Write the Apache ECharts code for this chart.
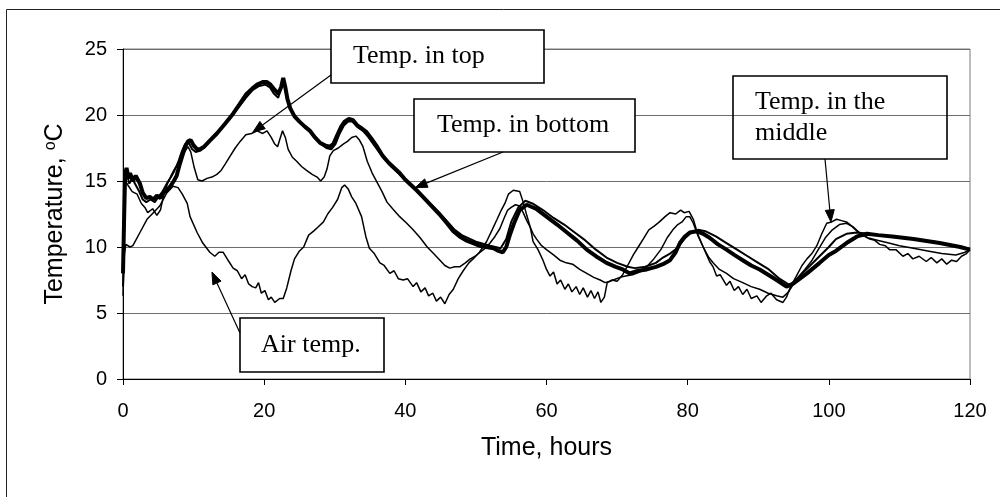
<!DOCTYPE html>
<html>
<head>
<meta charset="utf-8">
<script src="https://cdn.jsdelivr.net/npm/echarts@6/dist/echarts.min.js"></script>
<style>
  html, body { margin: 0; padding: 0; background: #fff; }
  #chart { width: 1000px; height: 497px; }
</style>
</head>
<body>
<div id="chart"></div>
<script>
// Temperature records over five days, [hours, °C]
const airTemp = [
  [0,6.3],[0.2,9.5],[0.4,10.2],[1.0,10.0],[1.4,10.1],[2.4,11.1],[3.4,12.1],[4.3,12.6],[5.2,13.1],[6.2,14.1],
  [7.1,14.6],[7.8,14.5],[8.4,14.0],[9.1,13.3],[9.5,12.3],[10.5,11.1],[11.3,10.3],[12.3,9.6],[13.0,9.3],[13.6,9.6],
  [14.2,9.6],[15.0,8.9],[15.6,8.4],[16.2,8.2],[16.8,7.6],[17.3,7.9],[17.8,7.2],[18.3,7.0],[18.8,6.9],[19.2,7.3],
  [19.6,6.5],[20.1,6.7],[20.6,6.0],[21.0,6.2],[21.5,5.8],[22.2,6.1],[22.7,6.1],[23.2,6.9],[23.8,8.2],[24.3,9.1],
  [25.0,9.7],[25.6,10.0],[26.3,10.9],[27.0,11.2],[27.6,11.5],[28.4,11.9],[29.0,12.5],[29.7,13.0],[30.4,13.6],[31.0,14.5],
  [31.4,14.7],[31.9,14.4],[32.4,13.8],[33.0,13.3],[33.8,12.3],[34.4,10.8],[34.9,9.9],[35.6,9.5],[36.4,8.8],[37.0,8.6],
  [37.8,8.0],[38.4,8.2],[39.0,7.6],[39.7,7.5],[40.3,7.6],[41.1,7.0],[41.6,7.3],[42.2,6.6],[42.8,6.9],[43.3,6.3],
  [43.9,6.5],[44.4,5.9],[45.0,6.2],[45.6,5.7],[46.2,6.4],[46.8,6.8],[47.5,7.6],[48.2,8.2],[49.0,8.8],[49.6,9.1],
  [50.5,9.6],[51.5,10.4],[52.3,11.3],[53.0,12.1],[53.6,12.8],[54.1,13.3],[54.6,14.0],[55.3,14.3],[56.2,14.2],[56.7,13.4],
  [57.2,12.4],[57.7,11.5],[58.1,10.4],[58.8,9.8],[59.5,9.0],[60.0,8.3],[60.5,7.8],[61.0,8.1],[61.5,7.2],[62.0,7.5],
  [62.6,6.8],[63.1,7.2],[63.6,6.6],[64.2,7.0],[64.7,6.4],[65.2,6.9],[65.8,6.2],[66.3,6.7],[66.8,6.1],[67.3,6.6],
  [67.7,5.8],[68.2,6.2],[68.6,7.3],[69.3,7.5],[70.0,7.4],[70.8,7.9],[71.5,8.6],[72.3,9.4],[73.0,10.0],[73.7,10.6],
  [74.5,11.3],[75.3,11.6],[76.0,11.9],[76.8,12.3],[77.5,12.6],[78.3,12.5],[79.0,12.8],[79.5,12.6],[80.2,12.7],[80.8,12.1],
  [81.4,11.0],[82.2,10.0],[83.1,8.9],[83.6,8.5],[84.1,7.8],[84.6,7.9],[85.5,7.1],[86.0,7.4],[86.6,6.7],[87.2,7.0],
  [87.8,6.4],[88.4,6.8],[89.0,6.1],[89.8,6.3],[90.4,5.8],[91.2,6.3],[91.8,6.5],[92.6,6.0],[93.5,5.8],[94.0,6.2],
  [94.5,6.9],[95.4,7.8],[96.2,8.6],[96.9,9.1],[97.6,9.5],[98.3,10.1],[99.0,11.0],[99.7,11.8],[100.4,11.9],[101.1,12.1],
  [101.8,12.0],[102.5,11.9],[103.2,11.6],[104.0,11.2],[104.8,10.9],[105.8,10.6],[106.5,10.5],[107.2,10.2],[108.0,10.1],[108.6,9.8],
  [109.5,9.8],[110.5,9.3],[111.2,9.5],[111.9,9.1],[112.8,9.3],[113.8,8.9],[114.5,9.2],[115.3,8.8],[116.0,9.1],[116.7,8.7],
  [117.4,9.0],[118.1,8.9],[118.8,9.3],[119.5,9.5],[120.0,9.8]
];

const topTemp = [
  [0,8.0],[0.15,12.5],[0.35,15.0],[0.8,14.6],[1.3,14.2],[2.0,14.0],[2.6,13.3],[3.1,13.0],[3.5,12.6],[4.2,12.9],
  [4.8,12.4],[5.3,12.8],[5.8,14.0],[6.3,14.8],[6.9,15.5],[7.4,16.0],[8.0,16.2],[8.6,17.1],[9.2,17.6],[9.6,17.2],
  [10.1,16.0],[10.6,15.1],[11.2,15.0],[11.9,15.2],[12.6,15.3],[13.3,15.5],[13.9,15.8],[14.5,16.3],[15.2,16.9],[15.9,17.5],
  [16.6,18.0],[17.4,18.5],[18.2,18.6],[19.0,18.8],[19.8,18.6],[20.4,18.8],[21.0,18.3],[21.5,17.8],[21.9,17.6],[22.3,18.3],
  [22.6,18.8],[23.0,18.3],[23.4,17.4],[24.0,16.8],[24.6,16.5],[25.3,16.1],[26.0,15.8],[26.8,15.5],[27.5,15.3],[28.0,15.0],
  [28.5,15.3],[28.9,15.9],[29.3,16.9],[29.8,17.3],[30.5,17.5],[31.2,17.8],[31.8,18.0],[32.4,18.3],[33.0,18.4],[33.5,18.1],
  [34.0,17.6],[34.6,16.5],[35.3,15.6],[36.0,14.9],[36.7,14.2],[37.4,13.4],[38.2,12.9],[39.2,12.3],[40.2,11.8],[41.1,11.3],
  [42.1,10.7],[43.1,10.0],[44.0,9.5],[44.9,9.0],[45.6,8.6],[46.3,8.4],[47.0,8.5],[47.7,8.5],[48.5,8.8],[49.2,9.1],
  [49.9,9.3],[50.6,9.6],[51.3,9.9],[52.0,10.3],[52.7,10.8],[53.4,11.4],[54.0,12.2],[54.5,12.8],[55.0,13.0],[55.6,13.2],
  [56.2,13.1],[56.7,12.6],[57.2,12.0],[57.6,11.6],[58.1,11.0],[58.6,10.6],[59.3,10.1],[60.0,9.8],[61.0,9.4],[61.9,9.0],
  [62.8,8.8],[63.7,8.7],[64.7,8.3],[65.7,8.0],[66.7,7.7],[67.6,7.5],[68.3,7.3],[69.0,7.4],[70.4,7.7],[71.2,7.8],
  [72.2,7.9],[73.2,8.1],[74.2,8.5],[75.2,9.1],[76.2,9.8],[77.1,10.7],[77.9,11.3],[78.6,11.7],[79.2,11.9],[79.8,12.3],
  [80.3,12.3],[80.8,11.8],[81.5,10.8],[82.2,10.0],[83.0,9.2],[83.6,8.8],[84.5,8.3],[85.5,8.0],[86.5,7.6],[87.8,7.3],
  [89.0,7.0],[90.2,6.8],[91.4,6.5],[92.6,6.3],[93.5,6.2],[94.3,6.6],[95.0,7.2],[95.8,7.8],[96.6,8.3],[97.5,8.9],
  [98.5,9.8],[99.5,10.7],[100.5,11.3],[101.5,11.7],[102.5,11.8],[103.5,11.5],[104.5,11.0],[105.5,10.7],[107.0,10.5],[108.5,10.3],
  [110.0,10.1],[112.0,9.9],[114.0,9.7],[116.0,9.5],[118.0,9.4],[119.3,9.6],[120.0,9.8]
];

const middleTemp = [
  [0,7.0],[0.15,11.0],[0.3,15.0],[0.5,15.6],[0.9,14.8],[1.3,15.2],[1.8,14.7],[2.3,14.2],[2.8,13.6],[3.3,13.4],
  [3.9,13.6],[4.5,13.4],[5.0,13.8],[5.6,14.2],[6.2,14.8],[6.8,15.3],[7.3,15.8],[7.8,16.4],[8.3,17.2],[8.8,17.8],
  [9.3,17.9],[9.8,17.4],[10.3,17.2],[11.0,17.3],[11.8,17.7],[12.8,18.3],[14.0,19.0],[15.2,19.8],[16.4,20.6],[17.4,21.3],
  [18.4,21.9],[19.3,22.2],[20.2,22.3],[20.8,22.1],[21.4,21.6],[22.0,21.3],[22.5,22.4],[22.8,22.6],[23.1,21.6],[23.5,20.7],
  [24.0,20.1],[24.8,19.6],[25.6,19.2],[26.5,18.7],[27.3,18.2],[28.0,17.8],[28.8,17.5],[29.5,17.4],[30.1,17.8],[30.7,18.6],
  [31.3,19.2],[31.9,19.5],[32.5,19.5],[33.2,19.1],[34.0,18.8],[34.8,18.3],[35.6,17.7],[36.4,17.1],[37.2,16.6],[38.0,16.1],
  [38.8,15.7],[39.6,15.3],[40.5,14.9],[41.4,14.4],[42.2,14.0],[43.0,13.5],[43.9,13.1],[44.8,12.6],[46.0,11.9],[47.0,11.3],
  [48.0,10.9],[50.0,10.4],[52.0,10.1],[53.5,9.9],[54.3,10.6],[55.0,11.9],[56.0,13.0],[57.0,13.5],[58.0,13.3],[59.5,12.8],
  [61.0,12.2],[62.5,11.7],[64.0,11.1],[65.5,10.5],[67.0,9.8],[68.5,9.2],[70.0,8.8],[71.5,8.5],[72.5,8.4],[74.0,8.5],
  [75.5,8.8],[76.5,9.2],[77.5,9.5],[78.5,9.9],[79.5,10.6],[80.5,11.1],[81.5,11.3],[82.5,11.2],[84.0,10.8],[85.5,10.3],
  [87.0,9.8],[88.5,9.3],[90.0,8.8],[91.5,8.3],[93.0,7.6],[94.5,7.1],[95.5,7.6],[97.0,8.4],[98.5,9.2],[100.0,10.0],
  [101.0,10.6],[102.5,11.0],[104.0,11.1],[105.5,11.0],[107.0,10.9],[109.0,10.8],[111.0,10.7],[113.0,10.5],[115.0,10.4],[117.0,10.2],
  [119.0,10.0],[120.0,9.8]
];

const bottomTemp = [
  [0,8.0],[0.15,12.0],[0.3,15.5],[0.5,16.0],[0.8,15.2],[1.0,15.6],[1.4,15.0],[1.8,15.4],[2.4,14.8],[2.8,14.1],
  [3.3,13.7],[3.8,13.8],[4.3,13.6],[4.8,13.9],[5.3,13.7],[5.7,14.1],[6.2,14.3],[6.7,14.6],[7.2,15.0],[7.6,15.4],
  [8.0,16.2],[8.4,16.9],[8.8,17.6],[9.2,18.0],[9.6,18.1],[10.0,17.7],[10.5,17.4],[10.9,17.4],[11.5,17.6],[12.2,18.0],
  [13.3,18.6],[14.4,19.3],[15.6,20.1],[16.5,20.8],[17.5,21.6],[18.3,22.0],[19.0,22.3],[19.8,22.5],[20.4,22.5],[20.9,22.3],
  [21.5,21.9],[22.0,21.6],[22.4,22.1],[22.7,22.8],[23.0,22.1],[23.3,21.2],[23.7,20.5],[24.3,19.9],[25.0,19.5],[25.8,19.1],
  [26.5,18.8],[27.2,18.3],[27.9,17.9],[28.6,17.7],[29.3,17.6],[29.8,17.8],[30.3,18.4],[30.9,19.1],[31.4,19.5],[32.0,19.7],
  [32.6,19.6],[33.2,19.2],[33.8,19.0],[34.5,18.7],[35.2,18.2],[36.0,17.6],[36.8,16.9],[37.6,16.4],[38.4,16.0],[39.2,15.6],
  [40.0,15.1],[40.8,14.7],[41.6,14.3],[42.5,13.8],[43.2,13.4],[43.9,13.0],[44.8,12.5],[45.9,11.8],[46.8,11.2],[47.7,10.8],
  [48.6,10.5],[49.6,10.3],[50.5,10.1],[51.5,10.0],[52.5,9.9],[53.2,9.7],[53.8,9.6],[54.3,10.0],[54.8,10.9],[55.4,11.8],
  [56.2,12.8],[57.2,13.2],[58.5,12.9],[60.0,12.3],[61.5,11.7],[62.9,11.1],[64.3,10.5],[65.7,9.8],[67.0,9.3],[68.5,8.8],
  [69.8,8.5],[70.8,8.3],[71.8,8.0],[73.0,8.2],[74.2,8.3],[75.5,8.5],[76.5,8.7],[77.5,9.0],[78.3,9.6],[78.9,10.3],
  [79.6,10.8],[80.3,11.1],[81.3,11.2],[82.2,11.0],[83.1,10.7],[84.3,10.2],[85.5,9.8],[86.6,9.4],[87.8,9.0],[89.0,8.6],
  [90.2,8.3],[91.4,7.9],[92.6,7.5],[94.0,7.0],[94.9,7.2],[96.9,8.0],[98.7,8.8],[100.0,9.4],[101.0,9.7],[102.5,10.3],
  [104.0,10.8],[105.4,11.0],[107.0,10.9],[109.0,10.8],[112.0,10.6],[115.7,10.3],[118.6,10.0],[120.0,9.8]
];

const xTicks = { min: 0, max: 120, step: 20 };
const yTicks = { min: 0, max: 25, step: 5 };

// Callout boxes: pixel box [x, y, w, h], line start in pixels, arrow tip in data units
const callouts = [
  { text: 'Temp. in top', box: [331, 30, 213, 53], from: [331, 75], tip: [18.4, 18.7], fill: '#fff', textX: 353 },
  { text: 'Temp. in bottom', box: [414, 99, 221, 53], from: [503, 152], tip: [41.4, 14.5], fill: '#fff', textX: 437 },
  { text: 'Temp. in the\nmiddle', box: [733, 76, 214, 83], from: [825, 159], tip: [100.3, 11.9], fill: null, textX: 755 },
  { text: 'Air temp.', box: [240, 318, 144, 54], from: [240, 333], tip: [12.6, 8.1], fill: '#fff', textX: 261 }
];

const chart = echarts.init(document.getElementById('chart'), null, { renderer: 'canvas' });

const sans = '"Liberation Sans", Arial, sans-serif';
const serif = '"Liberation Serif", "Times New Roman", serif';

function lineSeries(name, data, width) {
  return {
    name, type: 'line', data, showSymbol: false, symbol: 'none',
    lineStyle: { color: '#000', width }, z: 3
  };
}

chart.setOption({
  animation: false,
  backgroundColor: '#fff',
  grid: { left: 123, right: 30, top: 49, bottom: 118, show: true, borderColor: '#7a7a7a', borderWidth: 1 },
  xAxis: {
    type: 'value', min: xTicks.min, max: xTicks.max, interval: xTicks.step,
    name: 'Time, hours', nameLocation: 'middle', nameGap: 57,
    nameTextStyle: { fontFamily: sans, fontSize: 25, color: '#000' },
    axisLine: { show: true, onZero: false, lineStyle: { color: '#000', width: 1 } },
    axisTick: { show: true, length: 6, lineStyle: { color: '#000' } },
    axisLabel: { fontFamily: sans, fontSize: 20, color: '#000', margin: 22 },
    splitLine: { show: false }
  },
  yAxis: {
    type: 'value', min: yTicks.min, max: yTicks.max, interval: yTicks.step,
    name: 'Temperature, {sup|o}C', nameLocation: 'middle', nameGap: 55,
    nameTextStyle: {
      fontFamily: sans, fontSize: 25, color: '#000',
      rich: { sup: { fontFamily: sans, fontSize: 16, color: '#000', verticalAlign: 'top' } }
    },
    axisLine: { show: true, lineStyle: { color: '#000', width: 1 } },
    axisTick: { show: true, length: 6, lineStyle: { color: '#000' } },
    axisLabel: { fontFamily: sans, fontSize: 20, color: '#000', margin: 16 },
    splitLine: { show: true, lineStyle: { color: '#6e6e6e', width: 1 } }
  },
  series: [
    lineSeries('Air temp.', airTemp, 1.5),
    lineSeries('Temp. in top', topTemp, 1.5),
    lineSeries('Temp. in the middle', middleTemp, 2),
    lineSeries('Temp. in bottom', bottomTemp, 4)
  ]
});

// Callouts and frame, with arrow tips placed through the chart's own scales
const graphics = [{
  type: 'rect', z: 200,
  shape: { x: 6.5, y: 9.5, width: 1100, height: 600 },
  style: { fill: null, stroke: '#222', lineWidth: 1 }
}];

callouts.forEach(c => {
  const tip = chart.convertToPixel({ gridIndex: 0 }, c.tip);
  const [bx, by, bw, bh] = c.box;
  graphics.push({
    type: 'rect', z: 200,
    shape: { x: bx, y: by, width: bw, height: bh },
    style: { fill: c.fill, stroke: '#000', lineWidth: 1.6 }
  });
  graphics.push({
    type: 'text', z: 201,
    style: {
      text: c.text, x: c.textX, y: by + bh / 2,
      font: '26px ' + serif, fill: '#000',
      align: 'left', verticalAlign: 'middle', lineHeight: 31
    }
  });
  const dx = tip[0] - c.from[0], dy = tip[1] - c.from[1];
  const len = Math.hypot(dx, dy), ux = dx / len, uy = dy / len;
  const headL = 12, headW = 4.5;
  const baseX = tip[0] - ux * headL, baseY = tip[1] - uy * headL;
  graphics.push({
    type: 'line', z: 200,
    shape: { x1: c.from[0], y1: c.from[1], x2: baseX, y2: baseY },
    style: { stroke: '#000', lineWidth: 1.2 }
  });
  graphics.push({
    type: 'polygon', z: 200,
    shape: { points: [tip, [baseX - uy * headW, baseY + ux * headW], [baseX + uy * headW, baseY - ux * headW]] },
    style: { fill: '#000', stroke: '#000', lineWidth: 1 }
  });
});

chart.setOption({ graphic: graphics });
</script>
</body>
</html>
